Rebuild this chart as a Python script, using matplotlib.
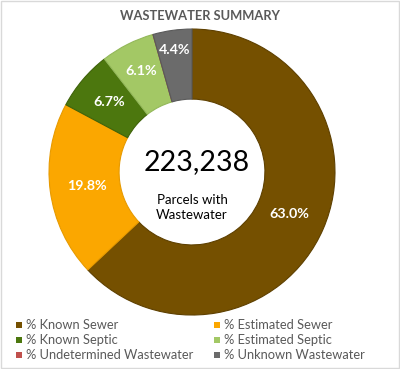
import numpy as np
import matplotlib.pyplot as plt
from matplotlib.patches import Rectangle

plt.rcParams['font.family'] = ['Lato', 'DejaVu Sans']

# data
categories = ['% Known Sewer', '% Estimated Sewer', '% Known Septic',
              '% Estimated Septic', '% Undetermined Wastewater', '% Unknown Wastewater']
shares = [63.0, 19.8, 6.7, 6.1, 0.0, 4.4]
total_parcels = 223238

colors = ['#755000', '#FBA700', '#4C770E', '#A3C865', '#C0504D', '#6B6B6B']
edges = ['#5E4000', '#E79A00', '#3F630A', '#93B85A', '#A04040', '#5A5A5A']
# radial position of each label (fraction of outer radius)
label_r = [0.74, 0.74, 0.76, 0.79, 0.0, 0.86]
TEXT = '#595959'
W, H = 400, 369

fig = plt.figure(figsize=(W / 100, H / 100), dpi=100)
fig.patches.append(Rectangle((0.002, 0.002), 0.996, 0.996, transform=fig.transFigure,
                             fill=False, edgecolor='#D9D9D9', linewidth=1))

ax = fig.add_axes([0.1225, 0.1463, 0.715, 0.775])
wedges, _ = ax.pie(shares, colors=colors, startangle=90, counterclock=False,
                   radius=1.0, wedgeprops=dict(width=0.49, linewidth=0.8))
for w, ec in zip(wedges, edges):
    w.set_edgecolor(ec)
ax.set_aspect('equal')
ax.set_xlim(-1, 1)
ax.set_ylim(-1, 1)

# percentage labels
start = 90.0
for val, r in zip(shares, label_r):
    mid = start - val * 3.6 / 2
    start -= val * 3.6
    if val <= 0:
        continue
    a = np.deg2rad(mid)
    ax.text(r * np.cos(a), r * np.sin(a), f'{val:.1f}%', ha='center', va='center',
            color='white', fontsize=10.3, fontweight='bold')

# centre text
ax.text(0.03, 0.07, f'{total_parcels:,}', ha='center', va='center', fontsize=20.5, color='black')
ax.text(0.0, -0.25, 'Parcels with\nWastewater', ha='center', va='center',
        fontsize=9.5, color='black', linespacing=1.3)

fig.text(0.5, 0.957, 'WASTEWATER SUMMARY', ha='center', va='center',
         fontsize=9.3, fontweight='bold', color=TEXT)

# legend, laid out row-wise in two columns (pixel positions)
col_x = [16, 214]
row_y = [325, 340, 355]
for i, (name, c) in enumerate(zip(categories, colors)):
    px = col_x[i % 2]
    py = row_y[i // 2]
    fig.patches.append(Rectangle((px / W, (H - py - 3) / H), 6 / W, 6 / H,
                                 transform=fig.transFigure, facecolor=c, edgecolor='none'))
    fig.text((px + 10) / W, (H - py) / H, name, ha='left', va='center',
             fontsize=9.3, color=TEXT)

fig.savefig('out.png', dpi=100)
